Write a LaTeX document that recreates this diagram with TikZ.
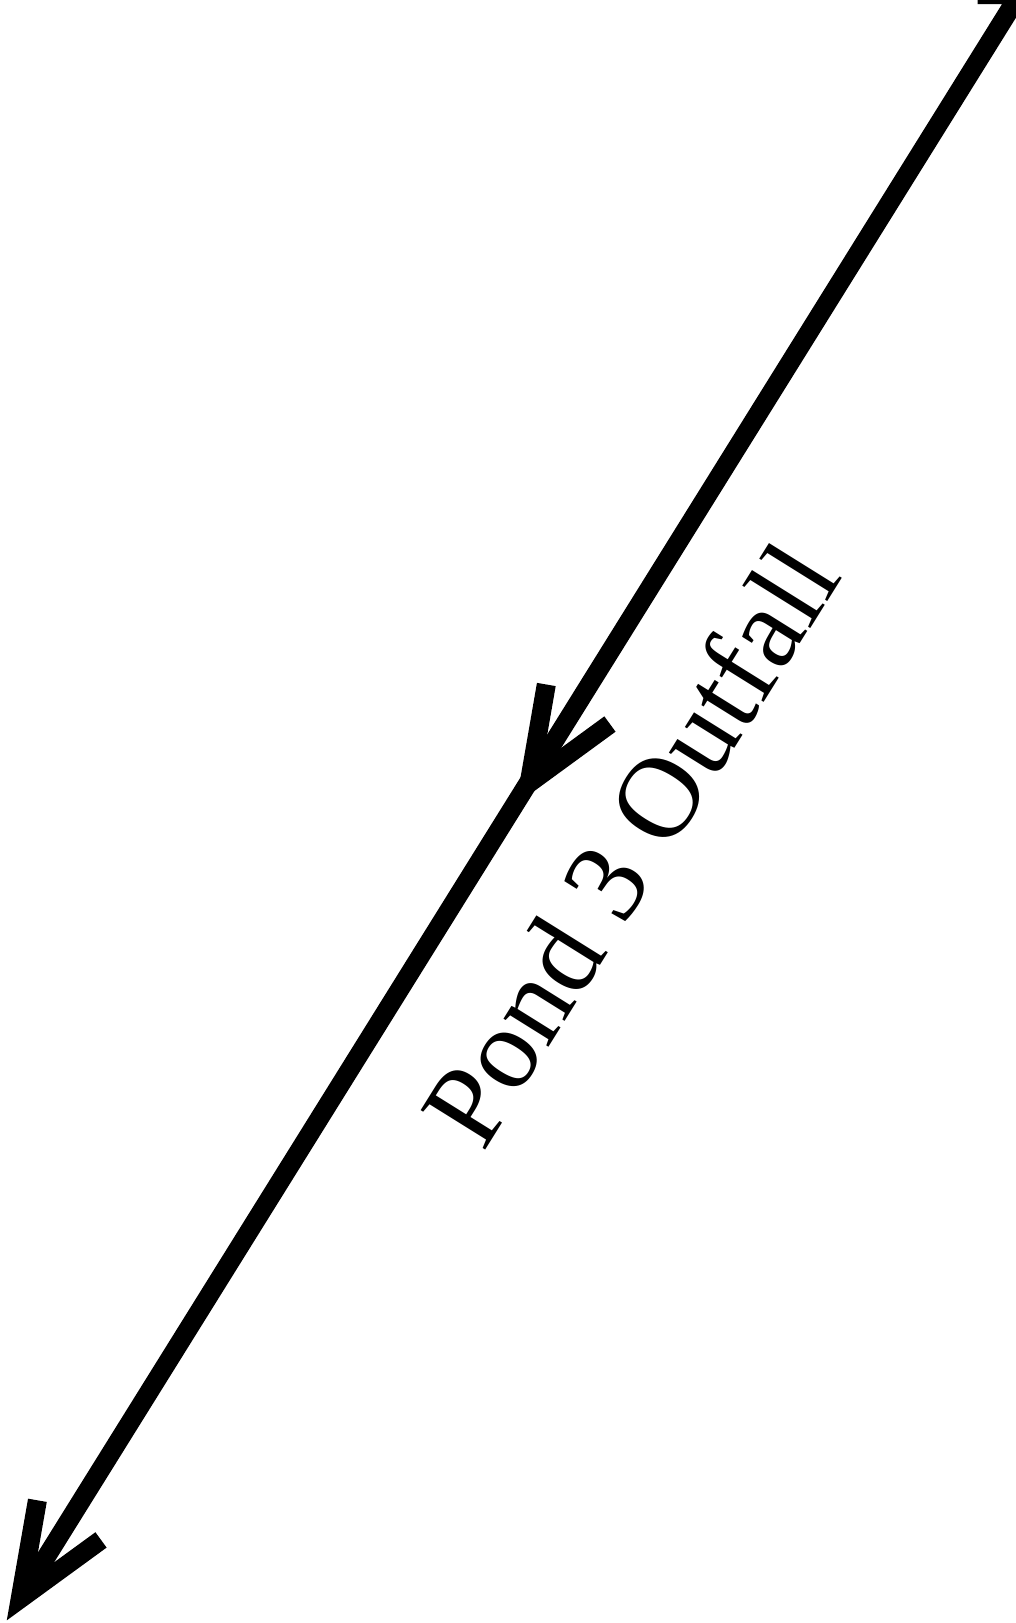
\documentclass[tikz,border=0pt]{standalone}
\usepackage{fontspec}
\setmainfont{Liberation Serif}
\usetikzlibrary{calc}
\begin{document}
\begin{tikzpicture}[x=1pt,y=-1pt,
  flow/.style={line width=19pt,line join=miter,line cap=butt,draw=black},
  barb/.style={line width=19pt,line join=miter,line cap=butt,draw=black},
  lbl/.style={inner sep=0pt,outer sep=0pt,anchor=base west,rotate=58.04,
    font=\fontsize{115.5}{130}\selectfont}]
\useasboundingbox (0,0) rectangle (1016,1623);
\coordinate (tail) at (977.5,-5.5);
\coordinate (corner) at (1019.2,-5.5);
\coordinate (mid) at (529.2,783);
\coordinate (end) at (20.2,1598.8);
\begin{scope}
\clip (0,0) rectangle (1016,1623);
\draw[flow] (tail) -- (corner) -- (end);
\end{scope}
\draw[barb] ($(mid)!100pt!22:(corner)$) -- (mid) -- ($(mid)!100pt!-22:(corner)$);
\draw[barb] ($(end)!100pt!22:(corner)$) -- (end) -- ($(end)!100pt!-22:(corner)$);
\node[lbl] (label) at (483,1153) {Pond 3 Outfall};
\end{tikzpicture}
\end{document}
